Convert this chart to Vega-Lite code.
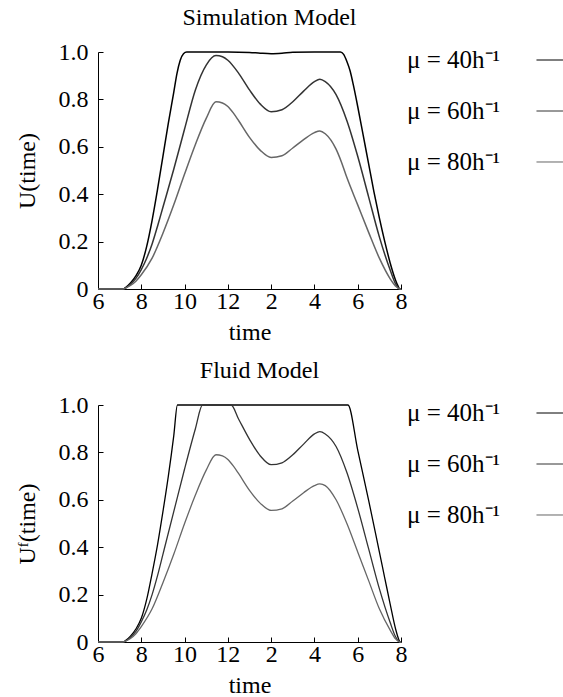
{
  "$schema": "https://vega.github.io/schema/vega-lite/v6.json",
  "background": "white",
  "padding": {"left": 15, "top": 6, "right": 0, "bottom": 0},
  "config": {
    "font": "Liberation Serif",
    "view": {"stroke": null},
    "axis": {"labelFont": "Liberation Serif", "titleFont": "Liberation Serif", "labelFontSize": 24, "titleFontSize": 24, "labelColor": "black", "titleColor": "black", "domainColor": "black", "tickColor": "black", "grid": false, "titleFontWeight": "normal", "tickSize": -5, "domainWidth": 1, "tickWidth": 1},
    "title": {"font": "Liberation Serif", "fontSize": 24, "fontWeight": "normal", "color": "black"}
  },
  "datasets": {
    "sim": [
      {"t":6,"U":0,"s":"μ = 40h⁻¹"},{"t":7,"U":0,"s":"μ = 40h⁻¹"},{"t":7.15,"U":0,"s":"μ = 40h⁻¹"},{"t":7.3,"U":0.008,"s":"μ = 40h⁻¹"},{"t":7.5,"U":0.025,"s":"μ = 40h⁻¹"},{"t":7.75,"U":0.055,"s":"μ = 40h⁻¹"},{"t":8,"U":0.1,"s":"μ = 40h⁻¹"},{"t":8.25,"U":0.18,"s":"μ = 40h⁻¹"},{"t":8.5,"U":0.29,"s":"μ = 40h⁻¹"},{"t":8.75,"U":0.42,"s":"μ = 40h⁻¹"},{"t":9,"U":0.56,"s":"μ = 40h⁻¹"},{"t":9.25,"U":0.7,"s":"μ = 40h⁻¹"},{"t":9.5,"U":0.83,"s":"μ = 40h⁻¹"},{"t":9.65,"U":0.91,"s":"μ = 40h⁻¹"},{"t":9.8,"U":0.965,"s":"μ = 40h⁻¹"},{"t":9.95,"U":0.993,"s":"μ = 40h⁻¹"},{"t":10.1,"U":1,"s":"μ = 40h⁻¹"},{"t":11,"U":1,"s":"μ = 40h⁻¹"},{"t":12,"U":1,"s":"μ = 40h⁻¹"},{"t":13,"U":0.998,"s":"μ = 40h⁻¹"},{"t":13.5,"U":0.995,"s":"μ = 40h⁻¹"},{"t":14,"U":0.993,"s":"μ = 40h⁻¹"},{"t":14.5,"U":0.995,"s":"μ = 40h⁻¹"},{"t":15,"U":0.999,"s":"μ = 40h⁻¹"},{"t":16,"U":1,"s":"μ = 40h⁻¹"},{"t":17.2,"U":1,"s":"μ = 40h⁻¹"},{"t":17.35,"U":0.99,"s":"μ = 40h⁻¹"},{"t":17.5,"U":0.96,"s":"μ = 40h⁻¹"},{"t":17.65,"U":0.92,"s":"μ = 40h⁻¹"},{"t":17.8,"U":0.86,"s":"μ = 40h⁻¹"},{"t":18,"U":0.77,"s":"μ = 40h⁻¹"},{"t":18.25,"U":0.65,"s":"μ = 40h⁻¹"},{"t":18.5,"U":0.53,"s":"μ = 40h⁻¹"},{"t":18.75,"U":0.41,"s":"μ = 40h⁻¹"},{"t":19,"U":0.3,"s":"μ = 40h⁻¹"},{"t":19.25,"U":0.2,"s":"μ = 40h⁻¹"},{"t":19.5,"U":0.11,"s":"μ = 40h⁻¹"},{"t":19.7,"U":0.05,"s":"μ = 40h⁻¹"},{"t":19.85,"U":0.015,"s":"μ = 40h⁻¹"},{"t":19.95,"U":0,"s":"μ = 40h⁻¹"},{"t":20,"U":0,"s":"μ = 40h⁻¹"},
      {"t":6,"U":0,"s":"μ = 60h⁻¹"},{"t":7,"U":0,"s":"μ = 60h⁻¹"},{"t":7.15,"U":0,"s":"μ = 60h⁻¹"},{"t":7.3,"U":0.006,"s":"μ = 60h⁻¹"},{"t":7.5,"U":0.02,"s":"μ = 60h⁻¹"},{"t":7.75,"U":0.045,"s":"μ = 60h⁻¹"},{"t":8,"U":0.082,"s":"μ = 60h⁻¹"},{"t":8.25,"U":0.13,"s":"μ = 60h⁻¹"},{"t":8.5,"U":0.19,"s":"μ = 60h⁻¹"},{"t":8.75,"U":0.265,"s":"μ = 60h⁻¹"},{"t":9,"U":0.345,"s":"μ = 60h⁻¹"},{"t":9.5,"U":0.505,"s":"μ = 60h⁻¹"},{"t":10,"U":0.675,"s":"μ = 60h⁻¹"},{"t":10.5,"U":0.84,"s":"μ = 60h⁻¹"},{"t":11,"U":0.945,"s":"μ = 60h⁻¹"},{"t":11.45,"U":0.985,"s":"μ = 60h⁻¹"},{"t":11.75,"U":0.98,"s":"μ = 60h⁻¹"},{"t":12,"U":0.965,"s":"μ = 60h⁻¹"},{"t":12.5,"U":0.91,"s":"μ = 60h⁻¹"},{"t":13,"U":0.84,"s":"μ = 60h⁻¹"},{"t":13.5,"U":0.78,"s":"μ = 60h⁻¹"},{"t":14,"U":0.748,"s":"μ = 60h⁻¹"},{"t":14.5,"U":0.756,"s":"μ = 60h⁻¹"},{"t":15,"U":0.79,"s":"μ = 60h⁻¹"},{"t":15.5,"U":0.835,"s":"μ = 60h⁻¹"},{"t":16,"U":0.875,"s":"μ = 60h⁻¹"},{"t":16.25,"U":0.885,"s":"μ = 60h⁻¹"},{"t":16.5,"U":0.875,"s":"μ = 60h⁻¹"},{"t":17,"U":0.82,"s":"μ = 60h⁻¹"},{"t":17.5,"U":0.71,"s":"μ = 60h⁻¹"},{"t":18,"U":0.56,"s":"μ = 60h⁻¹"},{"t":18.5,"U":0.39,"s":"μ = 60h⁻¹"},{"t":19,"U":0.22,"s":"μ = 60h⁻¹"},{"t":19.5,"U":0.08,"s":"μ = 60h⁻¹"},{"t":19.75,"U":0.022,"s":"μ = 60h⁻¹"},{"t":19.95,"U":0,"s":"μ = 60h⁻¹"},{"t":20,"U":0,"s":"μ = 60h⁻¹"},
      {"t":6,"U":0,"s":"μ = 80h⁻¹"},{"t":7,"U":0,"s":"μ = 80h⁻¹"},{"t":7.15,"U":0,"s":"μ = 80h⁻¹"},{"t":7.3,"U":0.005,"s":"μ = 80h⁻¹"},{"t":7.5,"U":0.015,"s":"μ = 80h⁻¹"},{"t":7.75,"U":0.033,"s":"μ = 80h⁻¹"},{"t":8,"U":0.06,"s":"μ = 80h⁻¹"},{"t":8.5,"U":0.13,"s":"μ = 80h⁻¹"},{"t":9,"U":0.235,"s":"μ = 80h⁻¹"},{"t":9.5,"U":0.355,"s":"μ = 80h⁻¹"},{"t":10,"U":0.485,"s":"μ = 80h⁻¹"},{"t":10.5,"U":0.61,"s":"μ = 80h⁻¹"},{"t":11,"U":0.72,"s":"μ = 80h⁻¹"},{"t":11.45,"U":0.79,"s":"μ = 80h⁻¹"},{"t":11.75,"U":0.785,"s":"μ = 80h⁻¹"},{"t":12,"U":0.77,"s":"μ = 80h⁻¹"},{"t":12.25,"U":0.743,"s":"μ = 80h⁻¹"},{"t":12.5,"U":0.71,"s":"μ = 80h⁻¹"},{"t":13,"U":0.64,"s":"μ = 80h⁻¹"},{"t":13.5,"U":0.585,"s":"μ = 80h⁻¹"},{"t":14,"U":0.555,"s":"μ = 80h⁻¹"},{"t":14.5,"U":0.562,"s":"μ = 80h⁻¹"},{"t":15,"U":0.595,"s":"μ = 80h⁻¹"},{"t":15.5,"U":0.63,"s":"μ = 80h⁻¹"},{"t":16,"U":0.66,"s":"μ = 80h⁻¹"},{"t":16.25,"U":0.667,"s":"μ = 80h⁻¹"},{"t":16.5,"U":0.655,"s":"μ = 80h⁻¹"},{"t":17,"U":0.59,"s":"μ = 80h⁻¹"},{"t":17.25,"U":0.535,"s":"μ = 80h⁻¹"},{"t":17.5,"U":0.47,"s":"μ = 80h⁻¹"},{"t":18,"U":0.355,"s":"μ = 80h⁻¹"},{"t":18.5,"U":0.24,"s":"μ = 80h⁻¹"},{"t":19,"U":0.13,"s":"μ = 80h⁻¹"},{"t":19.5,"U":0.043,"s":"μ = 80h⁻¹"},{"t":19.75,"U":0.012,"s":"μ = 80h⁻¹"},{"t":19.95,"U":0,"s":"μ = 80h⁻¹"},{"t":20,"U":0,"s":"μ = 80h⁻¹"}
    ],
    "fluid": [
      {"t":6,"U":0,"s":"μ = 40h⁻¹"},{"t":7,"U":0,"s":"μ = 40h⁻¹"},{"t":7.15,"U":0,"s":"μ = 40h⁻¹"},{"t":7.3,"U":0.008,"s":"μ = 40h⁻¹"},{"t":7.5,"U":0.025,"s":"μ = 40h⁻¹"},{"t":7.75,"U":0.055,"s":"μ = 40h⁻¹"},{"t":8,"U":0.1,"s":"μ = 40h⁻¹"},{"t":8.25,"U":0.18,"s":"μ = 40h⁻¹"},{"t":8.5,"U":0.29,"s":"μ = 40h⁻¹"},{"t":8.75,"U":0.41,"s":"μ = 40h⁻¹"},{"t":9,"U":0.55,"s":"μ = 40h⁻¹"},{"t":9.25,"U":0.7,"s":"μ = 40h⁻¹"},{"t":9.5,"U":0.87,"s":"μ = 40h⁻¹"},{"t":9.67,"U":1,"s":"μ = 40h⁻¹"},{"t":17.55,"U":1,"s":"μ = 40h⁻¹"},{"t":18,"U":0.81,"s":"μ = 40h⁻¹"},{"t":18.5,"U":0.6,"s":"μ = 40h⁻¹"},{"t":19,"U":0.38,"s":"μ = 40h⁻¹"},{"t":19.25,"U":0.27,"s":"μ = 40h⁻¹"},{"t":19.5,"U":0.16,"s":"μ = 40h⁻¹"},{"t":19.75,"U":0.055,"s":"μ = 40h⁻¹"},{"t":19.9,"U":0.01,"s":"μ = 40h⁻¹"},{"t":19.95,"U":0,"s":"μ = 40h⁻¹"},{"t":20,"U":0,"s":"μ = 40h⁻¹"},
      {"t":6,"U":0,"s":"μ = 60h⁻¹"},{"t":7,"U":0,"s":"μ = 60h⁻¹"},{"t":7.15,"U":0,"s":"μ = 60h⁻¹"},{"t":7.3,"U":0.006,"s":"μ = 60h⁻¹"},{"t":7.5,"U":0.02,"s":"μ = 60h⁻¹"},{"t":7.75,"U":0.045,"s":"μ = 60h⁻¹"},{"t":8,"U":0.085,"s":"μ = 60h⁻¹"},{"t":8.25,"U":0.135,"s":"μ = 60h⁻¹"},{"t":8.5,"U":0.2,"s":"μ = 60h⁻¹"},{"t":8.75,"U":0.28,"s":"μ = 60h⁻¹"},{"t":9,"U":0.37,"s":"μ = 60h⁻¹"},{"t":9.5,"U":0.55,"s":"μ = 60h⁻¹"},{"t":10,"U":0.73,"s":"μ = 60h⁻¹"},{"t":10.5,"U":0.9,"s":"μ = 60h⁻¹"},{"t":10.83,"U":1,"s":"μ = 60h⁻¹"},{"t":12.15,"U":1,"s":"μ = 60h⁻¹"},{"t":12.5,"U":0.94,"s":"μ = 60h⁻¹"},{"t":13,"U":0.855,"s":"μ = 60h⁻¹"},{"t":13.5,"U":0.785,"s":"μ = 60h⁻¹"},{"t":14,"U":0.748,"s":"μ = 60h⁻¹"},{"t":14.5,"U":0.756,"s":"μ = 60h⁻¹"},{"t":15,"U":0.79,"s":"μ = 60h⁻¹"},{"t":15.5,"U":0.835,"s":"μ = 60h⁻¹"},{"t":16,"U":0.878,"s":"μ = 60h⁻¹"},{"t":16.25,"U":0.888,"s":"μ = 60h⁻¹"},{"t":16.5,"U":0.878,"s":"μ = 60h⁻¹"},{"t":17,"U":0.825,"s":"μ = 60h⁻¹"},{"t":17.5,"U":0.715,"s":"μ = 60h⁻¹"},{"t":18,"U":0.565,"s":"μ = 60h⁻¹"},{"t":18.5,"U":0.395,"s":"μ = 60h⁻¹"},{"t":19,"U":0.225,"s":"μ = 60h⁻¹"},{"t":19.5,"U":0.082,"s":"μ = 60h⁻¹"},{"t":19.75,"U":0.022,"s":"μ = 60h⁻¹"},{"t":19.95,"U":0,"s":"μ = 60h⁻¹"},{"t":20,"U":0,"s":"μ = 60h⁻¹"},
      {"t":6,"U":0,"s":"μ = 80h⁻¹"},{"t":7,"U":0,"s":"μ = 80h⁻¹"},{"t":7.15,"U":0,"s":"μ = 80h⁻¹"},{"t":7.3,"U":0.005,"s":"μ = 80h⁻¹"},{"t":7.5,"U":0.015,"s":"μ = 80h⁻¹"},{"t":7.75,"U":0.035,"s":"μ = 80h⁻¹"},{"t":8,"U":0.065,"s":"μ = 80h⁻¹"},{"t":8.5,"U":0.14,"s":"μ = 80h⁻¹"},{"t":9,"U":0.25,"s":"μ = 80h⁻¹"},{"t":9.5,"U":0.37,"s":"μ = 80h⁻¹"},{"t":10,"U":0.5,"s":"μ = 80h⁻¹"},{"t":10.5,"U":0.62,"s":"μ = 80h⁻¹"},{"t":11,"U":0.725,"s":"μ = 80h⁻¹"},{"t":11.45,"U":0.79,"s":"μ = 80h⁻¹"},{"t":11.75,"U":0.785,"s":"μ = 80h⁻¹"},{"t":12,"U":0.77,"s":"μ = 80h⁻¹"},{"t":12.25,"U":0.743,"s":"μ = 80h⁻¹"},{"t":12.5,"U":0.71,"s":"μ = 80h⁻¹"},{"t":13,"U":0.64,"s":"μ = 80h⁻¹"},{"t":13.5,"U":0.585,"s":"μ = 80h⁻¹"},{"t":14,"U":0.555,"s":"μ = 80h⁻¹"},{"t":14.5,"U":0.562,"s":"μ = 80h⁻¹"},{"t":15,"U":0.595,"s":"μ = 80h⁻¹"},{"t":15.5,"U":0.63,"s":"μ = 80h⁻¹"},{"t":16,"U":0.66,"s":"μ = 80h⁻¹"},{"t":16.25,"U":0.667,"s":"μ = 80h⁻¹"},{"t":16.5,"U":0.66,"s":"μ = 80h⁻¹"},{"t":17,"U":0.6,"s":"μ = 80h⁻¹"},{"t":17.5,"U":0.5,"s":"μ = 80h⁻¹"},{"t":18,"U":0.38,"s":"μ = 80h⁻¹"},{"t":18.5,"U":0.26,"s":"μ = 80h⁻¹"},{"t":19,"U":0.14,"s":"μ = 80h⁻¹"},{"t":19.5,"U":0.05,"s":"μ = 80h⁻¹"},{"t":19.75,"U":0.013,"s":"μ = 80h⁻¹"},{"t":19.95,"U":0,"s":"μ = 80h⁻¹"},{"t":20,"U":0,"s":"μ = 80h⁻¹"}
    ]
  },
  "spacing": 15,
  "vconcat": [
    {
      "spacing": 0,
      "hconcat": [
        {
          "width": 303, "height": 237,
          "title": {"text": "Simulation Model", "baseline": "alphabetic", "offset": -9, "dx": 20},
          "data": {"name": "sim"},
          "mark": {"type": "line", "strokeWidth": 1.5, "interpolate": "monotone"},
          "encoding": {
            "x": {"field": "t", "type": "quantitative", "scale": {"domain": [6, 20], "nice": false, "zero": false}, "axis": {"values": [6, 8, 10, 12, 14, 16, 18, 20], "labelExpr": "datum.value > 12 ? datum.value - 12 : datum.value", "title": "time", "labelPadding": 5, "titlePadding": 7, "labelFlush": false}},
            "y": {"field": "U", "type": "quantitative", "scale": {"domain": [0, 1], "nice": false}, "axis": {"values": [0, 0.2, 0.4, 0.6, 0.8, 1], "labelExpr": "datum.value == 0 ? '0' : format(datum.value, '.1f')", "title": "U(time)", "labelPadding": 15, "titlePadding": 19}},
            "color": {"field": "s", "type": "nominal", "scale": {"domain": ["μ = 40h⁻¹", "μ = 60h⁻¹", "μ = 80h⁻¹"], "range": ["#000000", "#333333", "#666666"]}, "legend": null}
          }
        },
        {
          "width": 156, "height": 118,
          "data": {"name": "sim"},
          "transform": [{"aggregate": [{"op": "count", "as": "n"}], "groupby": ["s"]}],
          "encoding": {"y": {"field": "s", "type": "ordinal", "scale": {"type": "point", "padding": 0.157}, "axis": null}},
          "layer": [
            {"mark": {"type": "text", "align": "left", "baseline": "middle", "fontSize": 25, "font": "Liberation Serif", "color": "black"},
             "encoding": {"x": {"datum": 0, "type": "quantitative", "scale": {"domain": [0, 1]}, "axis": null}, "text": {"field": "s"}}},
            {"mark": {"type": "rule", "strokeWidth": 1},
             "encoding": {"x": {"datum": 0.83, "type": "quantitative"}, "x2": {"datum": 1}, "color": {"field": "s", "type": "nominal", "legend": null}}}
          ]
        }
      ]
    },
    {
      "spacing": 0,
      "hconcat": [
        {
          "width": 303, "height": 237,
          "title": {"text": "Fluid Model", "baseline": "alphabetic", "offset": -9, "dx": 10},
          "data": {"name": "fluid"},
          "mark": {"type": "line", "strokeWidth": 1.3, "interpolate": "monotone"},
          "encoding": {
            "x": {"field": "t", "type": "quantitative", "scale": {"domain": [6, 20], "nice": false, "zero": false}, "axis": {"values": [6, 8, 10, 12, 14, 16, 18, 20], "labelExpr": "datum.value > 12 ? datum.value - 12 : datum.value", "title": "time", "labelPadding": 5, "titlePadding": 7, "labelFlush": false}},
            "y": {"field": "U", "type": "quantitative", "scale": {"domain": [0, 1], "nice": false}, "axis": {"values": [0, 0.2, 0.4, 0.6, 0.8, 1], "labelExpr": "datum.value == 0 ? '0' : format(datum.value, '.1f')", "title": "Uᶠ(time)", "labelPadding": 15, "titlePadding": 19}},
            "color": {"field": "s", "type": "nominal", "legend": null}
          }
        },
        {
          "width": 156, "height": 118,
          "data": {"name": "fluid"},
          "transform": [{"aggregate": [{"op": "count", "as": "n"}], "groupby": ["s"]}],
          "encoding": {"y": {"field": "s", "type": "ordinal", "scale": {"type": "point", "padding": 0.157}, "axis": null}},
          "layer": [
            {"mark": {"type": "text", "align": "left", "baseline": "middle", "fontSize": 25, "font": "Liberation Serif", "color": "black"},
             "encoding": {"x": {"datum": 0, "type": "quantitative", "scale": {"domain": [0, 1]}, "axis": null}, "text": {"field": "s"}}},
            {"mark": {"type": "rule", "strokeWidth": 1},
             "encoding": {"x": {"datum": 0.83, "type": "quantitative"}, "x2": {"datum": 1}, "color": {"field": "s", "type": "nominal", "legend": null}}}
          ]
        }
      ]
    }
  ]
}
